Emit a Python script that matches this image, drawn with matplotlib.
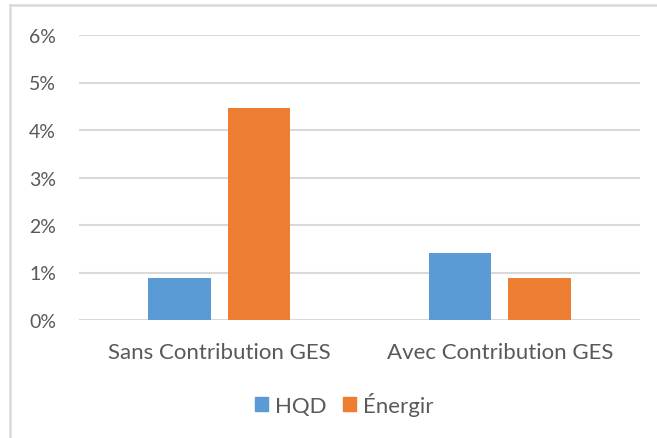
import matplotlib
matplotlib.use("Agg")
import matplotlib.pyplot as plt
from matplotlib.lines import Line2D
from matplotlib.patches import Patch
import numpy as np

categories = ["Sans Contribution GES", "Avec Contribution GES"]
series_names = ["HQD", "Énergir"]
hqd = [0.0089, 0.0141]
energir = [0.0447, 0.0089]
yticks = [0, 0.01, 0.02, 0.03, 0.04, 0.05, 0.06]
ytick_labels = ["0%", "1%", "2%", "3%", "4%", "5%", "6%"]

colors = ["#5B9BD5", "#ED7D31"]
grid_color = "#D9D9D9"
text_color = "#595959"
font = ["Lato", "DejaVu Sans"]

W, H = 657, 439
fig = plt.figure(figsize=(W / 100, H / 100), dpi=100)
ax = fig.add_axes([79 / W, 1 - 321 / H, (640 - 79) / W, (321 - 36) / H])

x = np.arange(len(categories))
bw = 0.224
off = 0.142
ax.bar(x - off, hqd, width=bw, color=colors[0], zorder=3, label=series_names[0])
ax.bar(x + off, energir, width=bw, color=colors[1], zorder=3, label=series_names[1])

ax.set_xlim(-0.5, 1.5)
ax.set_ylim(0, 0.06)
ax.set_yticks(yticks)
ax.set_yticklabels(ytick_labels, fontfamily=font, fontsize=14, color=text_color)
ax.set_xticks(x)
ax.set_xticklabels(categories, fontfamily=font, fontsize=16, color=text_color)
ax.tick_params(axis="both", length=0)
ax.tick_params(axis="y", pad=16.5)
ax.tick_params(axis="x", pad=16)
ax.grid(axis="y", color=grid_color, linewidth=1.5, zorder=0)
for s in ax.spines.values():
    s.set_visible(False)

handles = [Patch(color=colors[0]), Patch(color=colors[1])]
fig.legend(handles, series_names, loc="center", bbox_to_anchor=(344.5 / W, 1 - 405 / H),
           ncol=2, frameon=False, prop={"family": font, "size": 16},
           labelcolor=text_color, handlelength=0.58, handleheight=0.58,
           handletextpad=0.32, columnspacing=0.75, borderpad=0, borderaxespad=0)

# outer chart border (top and left visible)
fig.add_artist(Line2D([10 / W, 1], [1 - 6 / H, 1 - 6 / H], color=grid_color, linewidth=1.8,
                      transform=fig.transFigure))
fig.add_artist(Line2D([10 / W, 10 / W], [0, 1 - 6 / H], color=grid_color, linewidth=1.8,
                      transform=fig.transFigure))

fig.savefig("out.png", dpi=100, facecolor="white")
